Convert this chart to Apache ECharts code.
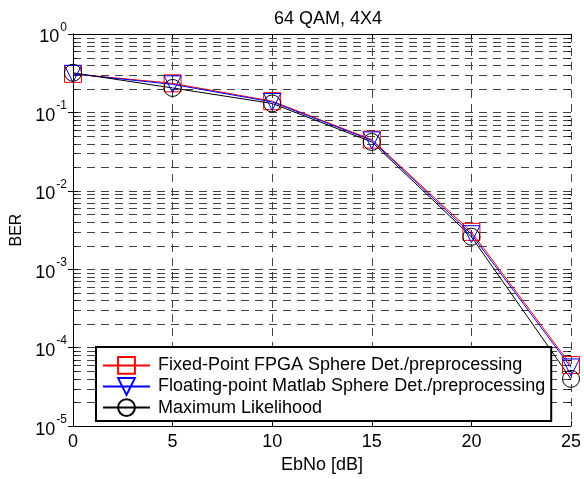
<!DOCTYPE html>
<html>
<head>
<meta charset="utf-8">
<script src="https://cdn.jsdelivr.net/npm/echarts@6/dist/echarts.min.js"></script>
<style>
html,body{margin:0;padding:0;background:#fff}
#main{width:584px;height:479px}
</style>
</head>
<body>
<div id="main"></div>
<script>
// BER curves, 64 QAM 4x4
var ebno = [0, 5, 10, 15, 20, 25];
var berFixed = [0.31, 0.235, 0.139, 0.045, 0.0030, 6.0e-5];
var berFloat = [0.31, 0.228, 0.136, 0.044, 0.0028, 5.6e-5];
var berML = [0.32, 0.205, 0.13, 0.042, 0.0026, 4.0e-5];
var names = ['Fixed-Point FPGA Sphere Det./preprocessing',
  'Floating-point Matlab Sphere Det./preprocessing',
  'Maximum Likelihood'];
var decades = [-5, -4, -3, -2, -1];
var mantissas = [2, 3, 4, 5, 6, 7, 8, 9];

var FONT = 'Liberation Sans, Arial, sans-serif';

function pairs(ys) {
  return ebno.map(function (x, i) { return [x, ys[i]]; });
}

var minorVals = [];
decades.forEach(function (d) {
  mantissas.forEach(function (m) { minorVals.push([0, m * Math.pow(10, d)]); });
});

function renderMinor(params, api) {
  var y = Math.round(api.coord([0, api.value(1)])[1]) + 0.5;
  var cs = params.coordSys;
  return {
    type: 'group',
    children: [
      {type: 'line', shape: {x1: cs.x, y1: y, x2: cs.x + cs.width, y2: y},
        style: {stroke: '#444', lineWidth: 1, lineDash: [8, 6]}},
      {type: 'line', shape: {x1: cs.x, y1: y, x2: cs.x + 3, y2: y},
        style: {stroke: '#000', lineWidth: 1}},
      {type: 'line', shape: {x1: cs.x + cs.width - 3, y1: y, x2: cs.x + cs.width, y2: y},
        style: {stroke: '#000', lineWidth: 1}}
    ]
  };
}

function expLabel(v) {
  var e = Math.round(Math.log(v) / Math.LN10);
  return '{b|10}{e|' + e + '}';
}

var myChart = echarts.init(document.getElementById('main'));

var gridLine = {show: true, lineStyle: {color: '#444', width: 1, type: [8, 6]}};
var tick = {show: true, inside: true, length: 5, lineStyle: {color: '#000'}};
var line = {show: true, lineStyle: {color: '#000', width: 1}};

function mkSeries(name, ys, color, symbol, rotate) {
  return {
    name: name,
    type: 'line',
    data: pairs(ys),
    symbol: symbol,
    symbolSize: 17,
    symbolRotate: rotate,
    showAllSymbol: true,
    lineStyle: {color: color, width: 1},
    itemStyle: {color: 'rgba(0,0,0,0)', borderColor: color, borderWidth: 1},
    z: 3
  };
}

var option = {
  animation: false,
  backgroundColor: '#fff',
  textStyle: {fontFamily: FONT},
  title: {
    text: '64 QAM, 4X4',
    left: 323, top: 5, textAlign: 'center',
    textStyle: {fontSize: 18, fontWeight: 'normal', color: '#000', fontFamily: FONT}
  },
  grid: {left: 73, right: 11, top: 34, bottom: 50},
  legend: {
    orient: 'vertical',
    left: 96, top: 347,
    itemWidth: 47, itemHeight: 21, itemGap: 2.3,
    padding: [9, 6, 4, 6],
    backgroundColor: '#fff',
    borderColor: '#000', borderWidth: 2, borderRadius: 0,
    selectedMode: false,
    textStyle: {fontSize: 18, color: '#000', fontFamily: FONT, padding: [0, 0, 0, 3]},
    data: names
  },
  xAxis: [{
    type: 'value', min: 0, max: 25, interval: 5,
    name: 'EbNo [dB]', nameLocation: 'middle', nameGap: 26,
    nameTextStyle: {fontSize: 18, color: '#000', fontFamily: FONT},
    axisLine: line, axisTick: tick, splitLine: gridLine,
    axisLabel: {fontSize: 18, color: '#000', margin: 7, fontFamily: FONT}
  }, {
    type: 'value', min: 0, max: 25, interval: 5, position: 'top',
    axisLine: line, axisTick: tick, splitLine: {show: false},
    axisLabel: {show: false}
  }],
  yAxis: [{
    type: 'log', logBase: 10, min: 1e-5, max: 1,
    name: 'BER', nameLocation: 'middle', nameGap: 48,
    nameTextStyle: {fontSize: 16, color: '#000', fontFamily: FONT},
    axisLine: line, axisTick: tick, splitLine: gridLine,
    axisLabel: {
      formatter: expLabel, margin: 6, color: '#000',
      rich: {
        b: {fontSize: 18, fontFamily: FONT, color: '#000', verticalAlign: 'bottom'},
        e: {fontSize: 12, fontFamily: FONT, color: '#000', verticalAlign: 'bottom', padding: [0, 0, 13, 1]}
      }
    }
  }, {
    type: 'log', logBase: 10, min: 1e-5, max: 1, position: 'right',
    axisLine: line, axisTick: tick, splitLine: {show: false},
    axisLabel: {show: false}
  }],
  series: [
    {
      type: 'custom',
      renderItem: renderMinor,
      data: minorVals,
      silent: true,
      z: 1
    },
    mkSeries(names[0], berFixed, '#ff0000', 'rect', 0),
    mkSeries(names[1], berFloat, '#0000ff', 'triangle', 180),
    mkSeries(names[2], berML, '#000000', 'circle', 0)
  ]
};

myChart.setOption(option);
</script>
</body>
</html>
